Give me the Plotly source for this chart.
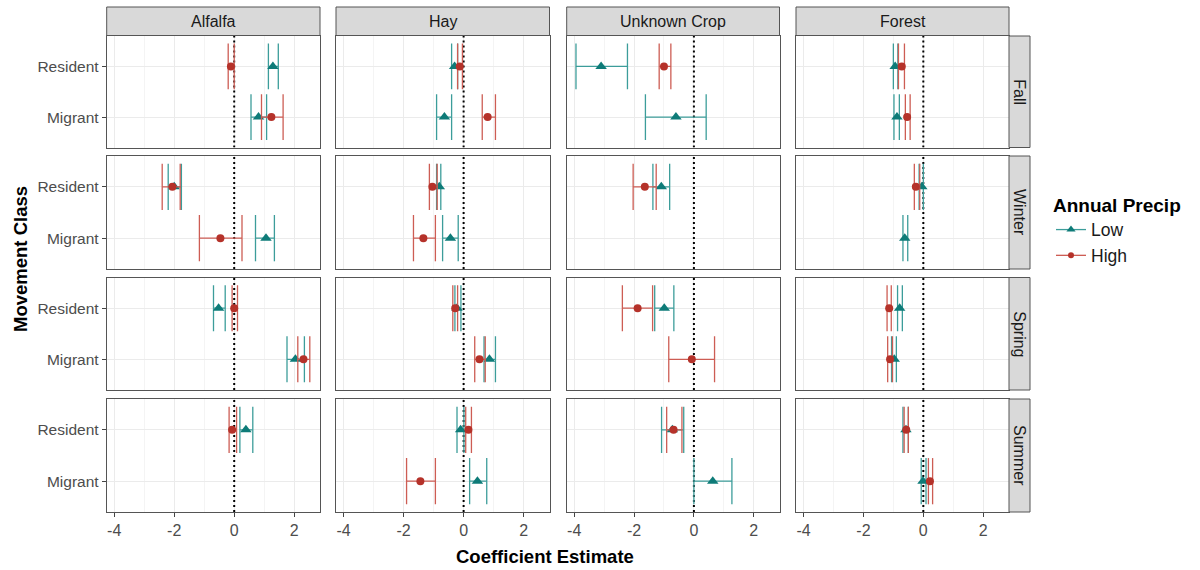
import plotly.graph_objects as go

# Facet levels
seasons = ["Fall", "Winter", "Spring", "Summer"]
crops = ["Alfalfa", "Hay", "Unknown Crop", "Forest"]
classes = ["Resident", "Migrant"]
class_pos = {"Resident": 2, "Migrant": 1}

# Estimates ordered by season -> crop -> class (Resident, Migrant); None = not estimated
low_est = [1.29, 0.81, -0.30, -0.64, -3.10, -0.60, -0.94, -0.88,
           -2.00, 1.06, -0.81, -0.44, -1.09, None, -0.05, -0.62,
           -0.52, 2.04, -0.22, 0.86, -0.99, None, -0.79, -0.97,
           0.39, None, -0.10, 0.46, -0.72, 0.63, -0.58, -0.01]
low_lo = [1.14, 0.56, -0.40, -0.90, -3.94, -1.62, -1.00, -0.98,
          -2.20, 0.71, -0.90, -0.70, -1.37, None, -0.14, -0.68,
          -0.69, 1.76, -0.29, 0.68, -1.31, None, -0.86, -1.06,
          0.19, None, -0.22, 0.20, -1.08, 0.00, -0.68, -0.07]
low_hi = [1.47, 1.08, -0.20, -0.40, -2.22, 0.41, -0.85, -0.80,
          -1.76, 1.34, -0.76, -0.18, -0.81, None, 0.00, -0.52,
          -0.30, 2.34, -0.09, 1.06, -0.67, None, -0.70, -0.90,
          0.62, None, 0.01, 0.77, -0.34, 1.27, -0.50, 0.09]

high_est = [-0.11, 1.24, -0.13, 0.80, -1.00, None, -0.72, -0.54,
            -2.06, -0.46, -1.04, -1.34, -1.64, None, -0.25, None,
            0.00, 2.31, -0.28, 0.53, -1.88, -0.07, -1.14, -1.11,
            -0.07, None, 0.16, -1.44, -0.68, None, -0.57, 0.22]
high_lo = [-0.20, 0.91, -0.20, 0.62, -1.16, None, -0.83, -0.60,
           -2.40, -1.16, -1.14, -1.67, -2.03, None, -0.30, None,
           -0.07, 2.12, -0.36, 0.37, -2.39, -0.84, -1.21, -1.19,
           -0.17, None, 0.07, -1.90, -0.91, None, -0.64, 0.17]
high_hi = [0.00, 1.63, -0.04, 1.06, -0.77, None, -0.63, -0.44,
           -1.80, 0.26, -0.88, -0.94, -1.26, None, -0.12, None,
           0.11, 2.52, -0.20, 0.72, -1.38, 0.69, -1.07, -1.03,
           0.08, None, 0.26, -0.94, -0.40, None, -0.50, 0.31]

x_ticks = [-4, -2, 0, 2]

W, H = 1200, 570
col_px = [(106.7, 320.0), (336.0, 549.5), (566.7, 779.5), (796.0, 1009.0)]
row_px = [(36.0, 147.5), (156.0, 269.0), (277.5, 390.0), (399.0, 512.0)]
strip_top = (7.0, 35.5)
strip_right = (1009.0, 1030.0)

FONT = "Liberation Sans, Arial, sans-serif"
CAP = 0.45  # half height of error bar caps (category units)

groups = [
    ("Low", low_est, low_lo, low_hi, "#3c9d9a", "#0e7b78", "triangle-up", 10),
    ("High", high_est, high_lo, high_hi, "#cd5d54", "#b5322a", "circle", 8),
]

fig = go.Figure()
shapes = []
annotations = []

for r, season in enumerate(seasons):
    for c, crop in enumerate(crops):
        n = r * 4 + c + 1
        xa = "x" if n == 1 else f"x{n}"
        ya = "y" if n == 1 else f"y{n}"
        # dotted reference line at zero, drawn beneath the estimates
        fig.add_trace(go.Scatter(
            x=[0, 0], y=[0.4, 2.6], mode="lines", xaxis=xa, yaxis=ya,
            line=dict(color="black", width=2, dash="2px,3px"),
            showlegend=False, hoverinfo="skip"))
        for name, est, lo, hi, bar_col, pt_col, sym, size in groups:
            ex, ey, px_, py_ = [], [], [], []
            for k, cl in enumerate(classes):
                i = (r * 4 + c) * 2 + k
                if est[i] is None:
                    continue
                y = class_pos[cl]
                # horizontal span plus end caps
                ex += [lo[i], hi[i], None, lo[i], lo[i], None, hi[i], hi[i], None]
                ey += [y, y, None, y - CAP, y + CAP, None, y - CAP, y + CAP, None]
                px_.append(est[i])
                py_.append(y)
            if ex:
                fig.add_trace(go.Scatter(
                    x=ex, y=ey, mode="lines", xaxis=xa, yaxis=ya,
                    line=dict(color=bar_col, width=1.3),
                    showlegend=False, hoverinfo="skip", legendgroup=name))
                fig.add_trace(go.Scatter(
                    x=px_, y=py_, mode="markers", xaxis=xa, yaxis=ya,
                    marker=dict(color=pt_col, symbol=sym, size=size, line=dict(width=0)),
                    showlegend=False, name=name, legendgroup=name))

# legend entries
for name, est, lo, hi, bar_col, pt_col, sym, size in groups:
    fig.add_trace(go.Scatter(
        x=[None], y=[None], mode="lines+markers", name=name, legendgroup=name,
        line=dict(color=bar_col, width=1.3),
        marker=dict(color=pt_col, symbol=sym, size=size - 2)))

layout = dict(
    width=W, height=H,
    margin=dict(l=0, r=0, t=0, b=0),
    paper_bgcolor="white", plot_bgcolor="white",
    showlegend=True,
    legend=dict(
        x=1051 / W, y=1 - 187 / H, xanchor="left", yanchor="top",
        title=dict(text="<b>Annual Precip</b>", font=dict(size=19, color="black", family=FONT)),
        font=dict(size=17.5, color="#1a1a1a", family=FONT),
        itemwidth=30, tracegroupgap=0, bgcolor="rgba(0,0,0,0)",
    ),
    font=dict(family=FONT),
)

for r in range(4):
    for c in range(4):
        n = r * 4 + c + 1
        xk = "xaxis" if n == 1 else f"xaxis{n}"
        yk = "yaxis" if n == 1 else f"yaxis{n}"
        x0, x1 = col_px[c]
        t, b = row_px[r]
        ya = "y" if n == 1 else f"y{n}"
        xa = "x" if n == 1 else f"x{n}"
        layout[xk] = dict(
            domain=[x0 / W, x1 / W], anchor=ya, range=[-4.25, 2.86],
            tickvals=x_ticks, ticktext=[str(v) for v in x_ticks],
            showticklabels=(r == 3), ticks="outside" if r == 3 else "",
            ticklen=4, tickcolor="#444444",
            tickfont=dict(size=16, color="#4d4d4d", family=FONT),
            showgrid=True, gridcolor="#ebebeb", gridwidth=1,
            minor=dict(tickvals=[-3, -1, 1], showgrid=True, gridcolor="#f4f4f4", gridwidth=1),
            zeroline=False, showline=True, mirror=True, linecolor="#555555", linewidth=1,
            fixedrange=True,
        )
        layout[yk] = dict(
            domain=[1 - b / H, 1 - t / H], anchor=xa, range=[0.4, 2.6],
            tickvals=[class_pos[k] for k in classes], ticktext=classes,
            showticklabels=(c == 0), ticks="outside" if c == 0 else "",
            ticklen=4, tickcolor="#444444",
            tickfont=dict(size=15.5, color="#4d4d4d", family=FONT),
            showgrid=True, gridcolor="#ebebeb", gridwidth=1,
            zeroline=False, showline=True, mirror=True, linecolor="#555555", linewidth=1,
            fixedrange=True,
        )

# top facet strips
for c, crop in enumerate(crops):
    x0, x1 = col_px[c]
    shapes.append(dict(type="rect", xref="paper", yref="paper",
                       x0=x0 / W, x1=x1 / W, y0=1 - strip_top[1] / H, y1=1 - strip_top[0] / H,
                       fillcolor="#d9d9d9", line=dict(color="#555555", width=1)))
    annotations.append(dict(text=crop, xref="paper", yref="paper",
                            x=(x0 + x1) / 2 / W, y=1 - (strip_top[0] + strip_top[1]) / 2 / H,
                            showarrow=False, xanchor="center", yanchor="middle",
                            font=dict(size=16, color="#1a1a1a", family=FONT)))

# right facet strips
for r, season in enumerate(seasons):
    t, b = row_px[r]
    shapes.append(dict(type="rect", xref="paper", yref="paper",
                       x0=strip_right[0] / W, x1=strip_right[1] / W, y0=1 - b / H, y1=1 - t / H,
                       fillcolor="#d9d9d9", line=dict(color="#555555", width=1)))
    annotations.append(dict(text=season, xref="paper", yref="paper",
                            x=(strip_right[0] + strip_right[1]) / 2 / W, y=1 - (t + b) / 2 / H,
                            showarrow=False, textangle=90, xanchor="center", yanchor="middle",
                            font=dict(size=16, color="#1a1a1a", family=FONT)))

# axis titles
annotations.append(dict(text="<b>Coefficient Estimate</b>", xref="paper", yref="paper",
                        x=545 / W, y=1 - 556 / H, showarrow=False,
                        xanchor="center", yanchor="middle",
                        font=dict(size=18.5, color="black", family=FONT)))
annotations.append(dict(text="<b>Movement Class</b>", xref="paper", yref="paper",
                        x=20 / W, y=1 - 259 / H, showarrow=False, textangle=-90,
                        xanchor="center", yanchor="middle",
                        font=dict(size=18.5, color="black", family=FONT)))

layout["shapes"] = shapes
layout["annotations"] = annotations
fig.update_layout(**layout)

fig.write_html("out.html")
